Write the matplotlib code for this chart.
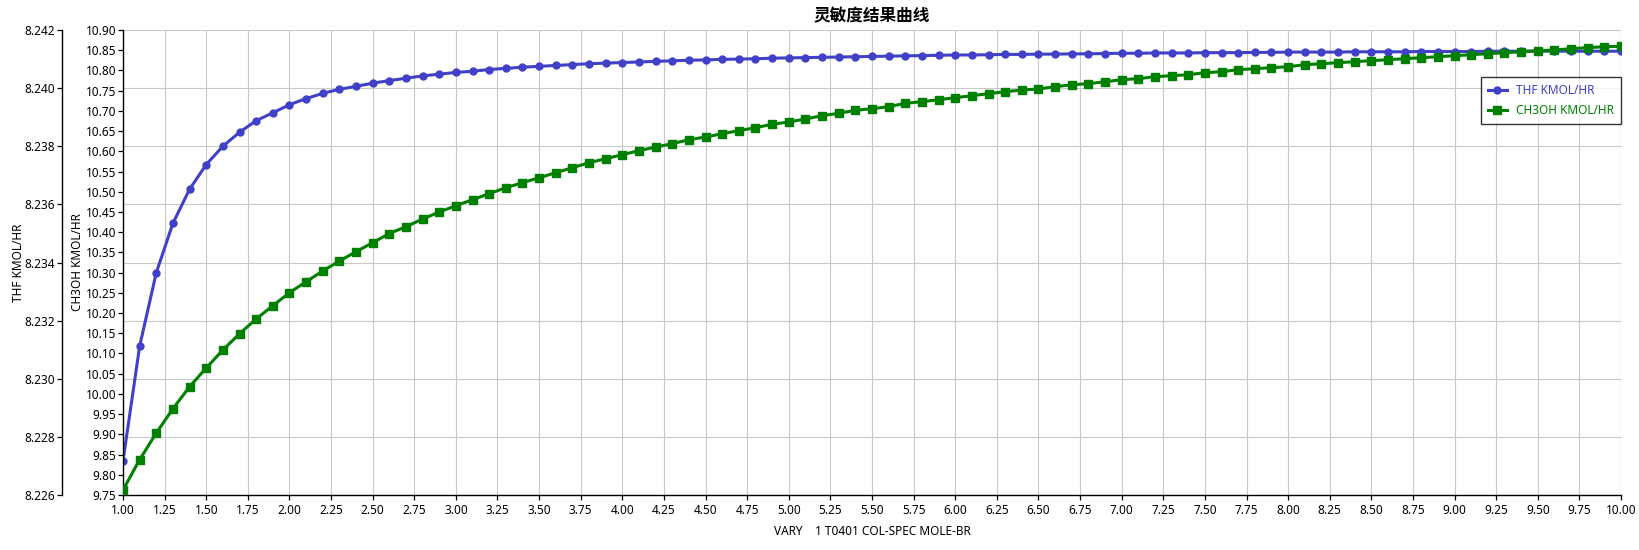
import matplotlib
matplotlib.use('Agg')
import matplotlib.pyplot as plt
from matplotlib.ticker import FormatStrFormatter, MultipleLocator

plt.rcParams['font.family'] = ['Noto Sans', 'Noto Sans CJK SC', 'DejaVu Sans']

title = '灵敏度结果曲线'
x_label = 'VARY    1 T0401 COL-SPEC MOLE-BR'
thf_label = 'THF KMOL/HR'
ch3oh_label = 'CH3OH KMOL/HR'

x_vals = [1.0, 1.1, 1.2, 1.3, 1.4, 1.5, 1.6, 1.7, 1.8, 1.9,
          2.0, 2.1, 2.2, 2.3, 2.4, 2.5, 2.6, 2.7, 2.8, 2.9,
          3.0, 3.1, 3.2, 3.3, 3.4, 3.5, 3.6, 3.7, 3.8, 3.9,
          4.0, 4.1, 4.2, 4.3, 4.4, 4.5, 4.6, 4.7, 4.8, 4.9,
          5.0, 5.1, 5.2, 5.3, 5.4, 5.5, 5.6, 5.7, 5.8, 5.9,
          6.0, 6.1, 6.2, 6.3, 6.4, 6.5, 6.6, 6.7, 6.8, 6.9,
          7.0, 7.1, 7.2, 7.3, 7.4, 7.5, 7.6, 7.7, 7.8, 7.9,
          8.0, 8.1, 8.2, 8.3, 8.4, 8.5, 8.6, 8.7, 8.8, 8.9,
          9.0, 9.1, 9.2, 9.3, 9.4, 9.5, 9.6, 9.7, 9.8, 9.9,
          10.0]

thf = [8.22717, 8.23112, 8.23365, 8.23535, 8.23652, 8.23737, 8.23800, 8.23848, 8.23888, 8.23915,
       8.23943, 8.23964, 8.23982, 8.23996, 8.24006, 8.24017, 8.24026, 8.24034, 8.24042, 8.24048,
       8.24054, 8.24058, 8.24064, 8.24068, 8.24072, 8.24075, 8.24078, 8.24081, 8.24084, 8.24086,
       8.24088, 8.24090, 8.24092, 8.24094, 8.24096, 8.24097, 8.24099, 8.24100, 8.24101, 8.24103,
       8.24104, 8.24105, 8.24106, 8.24107, 8.24108, 8.24109, 8.24110, 8.24111, 8.24112, 8.24113,
       8.24114, 8.24114, 8.24115, 8.24116, 8.24116, 8.24117, 8.24117, 8.24118, 8.24118, 8.24119,
       8.24120, 8.24120, 8.24121, 8.24121, 8.24121, 8.24122, 8.24122, 8.24122, 8.24123, 8.24123,
       8.24124, 8.24124, 8.24124, 8.24124, 8.24125, 8.24125, 8.24125, 8.24125, 8.24126, 8.24126,
       8.24126, 8.24126, 8.24127, 8.24127, 8.24127, 8.24127, 8.24127, 8.24127, 8.24127, 8.24127,
       8.24127]

ch3oh = [9.7624, 9.8373, 9.9033, 9.9634, 10.0178, 10.0641, 10.1086, 10.1489, 10.1853, 10.2182,
         10.2503, 10.2775, 10.3040, 10.3287, 10.3517, 10.3740, 10.3967, 10.4135, 10.4326, 10.4499,
         10.4655, 10.4803, 10.4952, 10.5100, 10.5224, 10.5347, 10.5471, 10.5595, 10.5718, 10.5817,
         10.5916, 10.6015, 10.6106, 10.6188, 10.6287, 10.6354, 10.6435, 10.6510, 10.6584, 10.6668,
         10.6725, 10.6799, 10.6881, 10.6940, 10.7014, 10.7054, 10.7103, 10.7187, 10.7227, 10.7276,
         10.7326, 10.7375, 10.7425, 10.7474, 10.7516, 10.7541, 10.7598, 10.7647, 10.7672, 10.7721,
         10.7771, 10.7796, 10.7845, 10.7870, 10.7894, 10.7944, 10.7969, 10.8018, 10.8043, 10.8068,
         10.8092, 10.8142, 10.8166, 10.8191, 10.8216, 10.8241, 10.8265, 10.8290, 10.8315, 10.8340,
         10.8364, 10.8389, 10.8414, 10.8439, 10.8463, 10.8488, 10.8505, 10.8538, 10.8563, 10.8587,
         10.8595]

W, H = 1639, 550
fig = plt.figure(figsize=(W / 100, H / 100), dpi=100)
left, right, top, bottom = 123, 1621, 30, 495
ax = fig.add_axes([left / W, (H - bottom) / H, (right - left) / W, (bottom - top) / H])
ax2 = ax.twinx()

blue = '#4040C8'
green = '#008000'
fs = 8.5

# THF (outer left axis)
l1, = ax.plot(x_vals, thf, color=blue, lw=2.2, marker='o', ms=5, label=thf_label, zorder=3)
ax.set_xlim(1.0, 10.0)
ax.set_ylim(8.226, 8.242)
ax.yaxis.set_major_locator(MultipleLocator(0.002))
ax.yaxis.set_major_formatter(FormatStrFormatter('%.3f'))
ax.xaxis.set_major_locator(MultipleLocator(0.25))
ax.xaxis.set_major_formatter(FormatStrFormatter('%.2f'))
ax.grid(True, color='#C8C8C8', lw=0.8)
ax.set_axisbelow(True)
for s in ['top', 'right']:
    ax.spines[s].set_visible(False)
ax.spines['left'].set_position(('axes', -61 / (right - left)))
ax.spines['left'].set_linewidth(1.0)
ax.spines['bottom'].set_linewidth(1.0)
ax.tick_params(axis='both', direction='out', length=3.5, width=0.9, labelsize=fs, pad=1.5)
ax.tick_params(axis='x', pad=3)
ax.set_ylabel(thf_label, fontsize=fs)
ax.yaxis.set_label_coords(-98 / (right - left), 0.5)
ax.set_xlabel(x_label, fontsize=fs)
ax.xaxis.set_label_coords(0.5, -30 / (bottom - top))

# CH3OH (inner left axis)
l2, = ax2.plot(x_vals, ch3oh, color=green, lw=2.2, marker='s', ms=5.5, label=ch3oh_label, zorder=3)
ax2.set_ylim(9.75, 10.90)
ax2.yaxis.set_major_locator(MultipleLocator(0.05))
ax2.yaxis.set_major_formatter(FormatStrFormatter('%.2f'))
ax2.yaxis.tick_left()
ax2.yaxis.set_label_position('left')
for s in ['top', 'right', 'bottom']:
    ax2.spines[s].set_visible(False)
ax2.spines['left'].set_visible(True)
ax2.spines['left'].set_position(('axes', 0))
ax2.spines['left'].set_linewidth(1.0)
ax2.tick_params(axis='y', direction='out', length=3.5, width=0.9, labelsize=fs, pad=1.5)
ax2.set_ylabel(ch3oh_label, fontsize=fs)
ax2.yaxis.set_label_coords(-39 / (right - left), 0.5)

ax.set_title(title, fontsize=12, fontweight='bold', pad=6,
             fontfamily=['Noto Sans CJK SC', 'DejaVu Sans'])

leg = ax2.legend([l1, l2], [thf_label, ch3oh_label], loc='upper right',
                 bbox_to_anchor=(1.0, 1 - 47 / (bottom - top)), borderaxespad=0,
                 fontsize=fs, frameon=True, fancybox=False, edgecolor='black',
                 handlelength=1.6, borderpad=0.6, labelspacing=0.6)
leg.get_frame().set_linewidth(1.0)
for t, c in zip(leg.get_texts(), [blue, green]):
    t.set_color(c)

fig.savefig('out.png', dpi=100)
